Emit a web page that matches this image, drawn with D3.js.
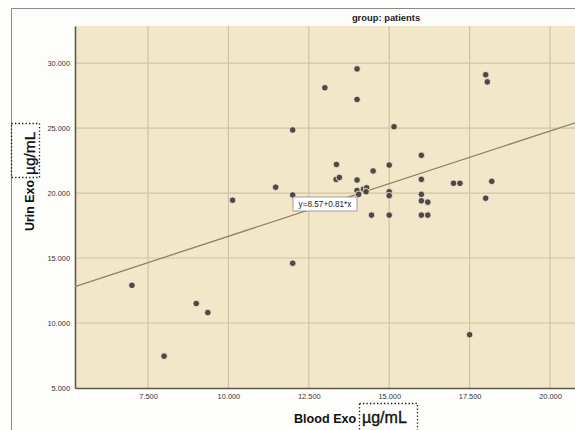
<!DOCTYPE html>
<html>
<head>
<meta charset="utf-8">
<script src="https://cdn.jsdelivr.net/npm/d3@7"></script>
<style>
  body { margin: 0; background: #fdfdfb; overflow: hidden; }
  text { font-family: "Liberation Sans", Arial, sans-serif; }
</style>
</head>
<body>
<script>
// blood exo (x) vs urin exo (y), group: patients
let bloodExo = [7.0, 8.0, 9.0, 9.36, 10.13, 11.47, 12.0, 12.0, 12.0, 13.0, 14.0, 14.0, 15.15,
    13.36, 13.35, 13.45, 14.0, 14.5, 15.0, 14.0, 14.05, 14.2, 14.3, 14.28, 15.0, 15.0,
    14.45, 15.0, 16.0, 16.0, 17.0, 17.2, 18.19, 16.0, 16.0, 16.2, 18.0, 16.0, 16.2,
    18.0, 18.05, 17.5];
let urinExo = [12.9, 7.45, 11.5, 10.8, 19.45, 20.45, 24.85, 14.6, 19.85, 28.1, 29.55, 27.2, 25.1,
    22.2, 21.05, 21.2, 21.0, 21.7, 22.15, 20.2, 19.9, 20.3, 20.4, 20.1, 20.1, 19.8,
    18.3, 18.3, 22.9, 21.05, 20.75, 20.75, 20.9, 19.9, 19.4, 19.3, 19.6, 18.3, 18.3,
    29.1, 28.55, 9.1];
let xTicks = [7.5, 10, 12.5, 15, 17.5, 20];
let yTicks = [5, 10, 15, 20, 25, 30];
let fitIntercept = 8.57, fitSlope = 0.81;

let width = 575, height = 430;
let svg = d3.select("body").append("svg")
    .attr("width", width)
    .attr("height", height);

// outer chart frame
svg.append("path")
    .attr("d", `M11.5,${height}V8.5H${width}`)
    .attr("fill", "none")
    .attr("stroke", "#8a8a8a");

let x = d3.scaleLinear().domain([5.23, 24.664]).range([75, 700]);
let y = d3.scaleLinear().domain([5, 32.85]).range([388, 26]);

let numFmt = v => v.toFixed(3);

// plot background
svg.append("rect")
    .attr("x", x.range()[0])
    .attr("y", y.range()[1])
    .attr("width", x.range()[1] - x.range()[0])
    .attr("height", y.range()[0] - y.range()[1])
    .attr("fill", "#f2e7c9");

// grid
svg.append("g").selectAll("line")
    .data(xTicks)
    .enter().append("line")
    .attr("x1", d => x(d)).attr("x2", d => x(d))
    .attr("y1", y.range()[1]).attr("y2", y.range()[0])
    .attr("stroke", "#d1c4a2")
    .attr("stroke-width", 1.2);
svg.append("g").selectAll("line")
    .data(yTicks.filter(v => v > 5))
    .enter().append("line")
    .attr("y1", d => y(d)).attr("y2", d => y(d))
    .attr("x1", x.range()[0]).attr("x2", x.range()[1])
    .attr("stroke", "#d1c4a2")
    .attr("stroke-width", 1.2);

// axes
let xAxis = svg.append("g")
    .attr("transform", `translate(0,${y.range()[0]})`)
    .call(d3.axisBottom(x).tickValues(xTicks).tickSize(0).tickPadding(6).tickFormat(numFmt));
let yAxis = svg.append("g")
    .attr("transform", `translate(${x.range()[0]},0)`)
    .call(d3.axisLeft(y).tickValues(yTicks).tickSize(0).tickPadding(5).tickFormat(numFmt));
[xAxis, yAxis].forEach(a => {
    a.select(".domain").attr("stroke", "#5e574b").attr("stroke-width", 1.6);
    a.selectAll("text").attr("fill", "#333").style("font-size", "7.4px");
});

// fit line
let fx = x.domain();
svg.append("line")
    .attr("x1", x(fx[0])).attr("y1", y(fitIntercept + fitSlope * fx[0]))
    .attr("x2", x(fx[1])).attr("y2", y(fitIntercept + fitSlope * fx[1]))
    .attr("stroke", "#8f8160")
    .attr("stroke-width", 1.3);

// points
svg.append("g").selectAll("circle")
    .data(bloodExo.map((b, i) => ({bx: b, ux: urinExo[i]})))
    .enter().append("circle")
    .attr("cx", d => x(d.bx))
    .attr("cy", d => y(d.ux))
    .attr("r", 3.3)
    .attr("fill", "#514940")
    .attr("stroke", "#fbf6ea")
    .attr("stroke-width", 0.8);

// fit label
let lbl = svg.append("g").attr("transform", "translate(293,197)");
lbl.append("rect")
    .attr("width", 64).attr("height", 14)
    .attr("fill", "#ffffff")
    .attr("stroke", "#8a8a8a")
    .attr("stroke-width", 0.8);
lbl.append("text")
    .attr("x", 32).attr("y", 10.3)
    .attr("text-anchor", "middle")
    .style("font-size", "8.2px")
    .attr("fill", "#222")
    .text(`y=${fitIntercept}+${fitSlope}*x`);

// title
svg.append("text")
    .attr("x", 386).attr("y", 20.5)
    .attr("text-anchor", "middle")
    .style("font-size", "9.4px")
    .style("font-weight", "bold")
    .attr("fill", "#222")
    .text("group: patients");

// x label
svg.append("text")
    .attr("x", 294).attr("y", 423)
    .style("font-size", "12.6px")
    .style("font-weight", "bold")
    .attr("fill", "#111")
    .text("Blood Exo");
svg.append("text")
    .attr("x", 362).attr("y", 423)
    .style("font-size", "16px")
    .attr("fill", "#111")
    .attr("stroke", "#111")
    .attr("stroke-width", 0.35)
    .text("\u00b5g/mL");
svg.append("rect")
    .attr("x", 359.5).attr("y", 403.5)
    .attr("width", 58).attr("height", 32)
    .attr("fill", "none")
    .attr("stroke", "#111")
    .attr("stroke-width", 1.3)
    .attr("stroke-dasharray", "1.3,2.2");

// y label
let yl = svg.append("g").attr("transform", "translate(34,0) rotate(-90)");
yl.append("text")
    .attr("x", -231).attr("y", 0)
    .style("font-size", "12.4px")
    .style("font-weight", "bold")
    .attr("fill", "#111")
    .text("Urin Exo");
yl.append("text")
    .attr("x", -175).attr("y", 1)
    .style("font-size", "15.5px")
    .attr("fill", "#111")
    .attr("stroke", "#111")
    .attr("stroke-width", 0.35)
    .text("\u00b5g/mL");
svg.append("rect")
    .attr("x", 11.5).attr("y", 123.5)
    .attr("width", 28).attr("height", 54)
    .attr("fill", "none")
    .attr("stroke", "#111")
    .attr("stroke-width", 1.3)
    .attr("stroke-dasharray", "1.3,2.2");
</script>
</body>
</html>
